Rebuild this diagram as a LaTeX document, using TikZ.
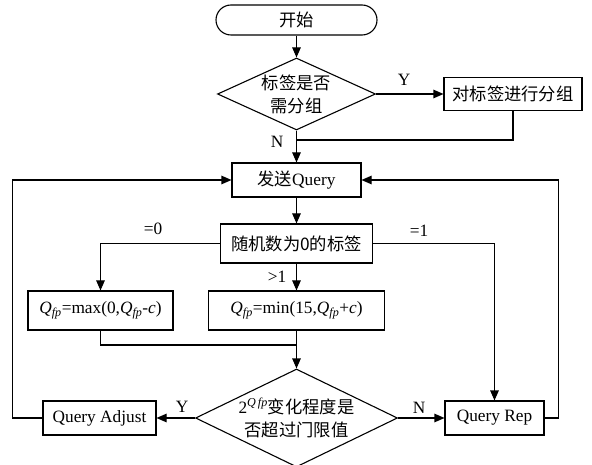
\documentclass[tikz,border=0pt]{standalone}
\usepackage{fontspec}
\setmainfont{Liberation Serif}
\newfontfamily\cjk{Noto Sans CJK SC}
\usetikzlibrary{shapes.geometric,arrows.meta}
\newcommand{\Qfp}{\textit{Q}\textsubscript{\textit{fp}}}
\tikzset{
  box/.style={draw, line width=1.1pt, inner sep=0pt, minimum height=34pt},
  choice/.style={draw, diamond, line width=1.1pt, inner sep=0pt, align=center},
  line/.style={line width=1.1pt},
  flow/.style={line width=1.1pt, -{Triangle[length=10pt,width=8.5pt]}},
  tag/.style={inner sep=0pt}
}
\begin{document}
\begin{tikzpicture}[x=1pt,y=-1pt,font=\fontsize{17.3}{23}\selectfont]
            \useasboundingbox (0,0) rectangle (592,465);
            \node[box, rounded corners=15pt, minimum width=161pt, minimum height=30pt] (start) at (296.5,20) {\cjk 开始};
            \node[choice, aspect=2.2, minimum width=158pt, minimum height=72pt] (dec1) at (296.5,94) {\cjk 标签是否\\\cjk 需分组};
            \node[box, minimum width=138pt, minimum height=33pt] (grp) at (513,94) {\cjk 对标签进行分组};
            \node[box, minimum width=129pt] (send) at (296.5,180) {{\cjk 发送}Query};
            \node[box, minimum width=152pt, minimum height=39pt] (rand) at (296.5,243.5) {\cjk 随机数为0的标签};
            \node[box, minimum width=145pt, minimum height=39pt] (max) at (100.5,310.5) {\Qfp=max(0,\Qfp-\textit{c})};
            \node[box, minimum width=176pt, minimum height=39pt] (min) at (296.5,310.5) {\Qfp=min(15,\Qfp+\textit{c})};
            \node[choice, aspect=2.06, minimum width=202pt, minimum height=98pt] (dec2) at (296.5,418) {2\textsuperscript{\itshape Q\,fp}{\cjk 变化程度是}\\\cjk 否超过门限值};
            \node[box, minimum width=113pt] (adj) at (99.5,418) {Query Adjust};
            \node[box, minimum width=99pt] (rep) at (494.5,418) {Query Rep};
            \coordinate (join) at (296.5,140);
            \coordinate (merge) at (296.5,345);
            \node[tag] (y1) at (404,80) {Y};
            \node[tag] (n1) at (277,142) {N};
            \node[tag] (eq0) at (153,229) {=0};
            \node[tag] (gt1) at (277,277) {>1};
            \node[tag] (eq1) at (419,231) {=1};
            \node[tag] (y2) at (182,407) {Y};
            \node[tag] (n2) at (419,408) {N};
            \draw[flow] (start) -- (dec1);
            \draw[flow] (dec1.east) -- (grp.west);
            \draw[line] (grp.south) |- (join);
            \draw[flow] (dec1.south) -- (send.north);
            \draw[flow] (send) -- (rand);
            \draw[flow] (rand.west) -| (max.north);
            \draw[flow] (rand) -- (min);
            \draw[flow] (rand.east) -| (rep.north);
            \draw[line] (max.south) |- (merge);
            \draw[flow] (min.south) -- (dec2.north);
            \draw[flow] (dec2.west) -- (adj.east);
            \draw[flow] (dec2.east) -- (rep.west);
            \draw[flow] (adj.west) -- ++(-30,0) |- (send.west);
            \draw[flow] (rep.east) -- ++(14,0) |- (send.east);
        \end{tikzpicture}
\end{document}
